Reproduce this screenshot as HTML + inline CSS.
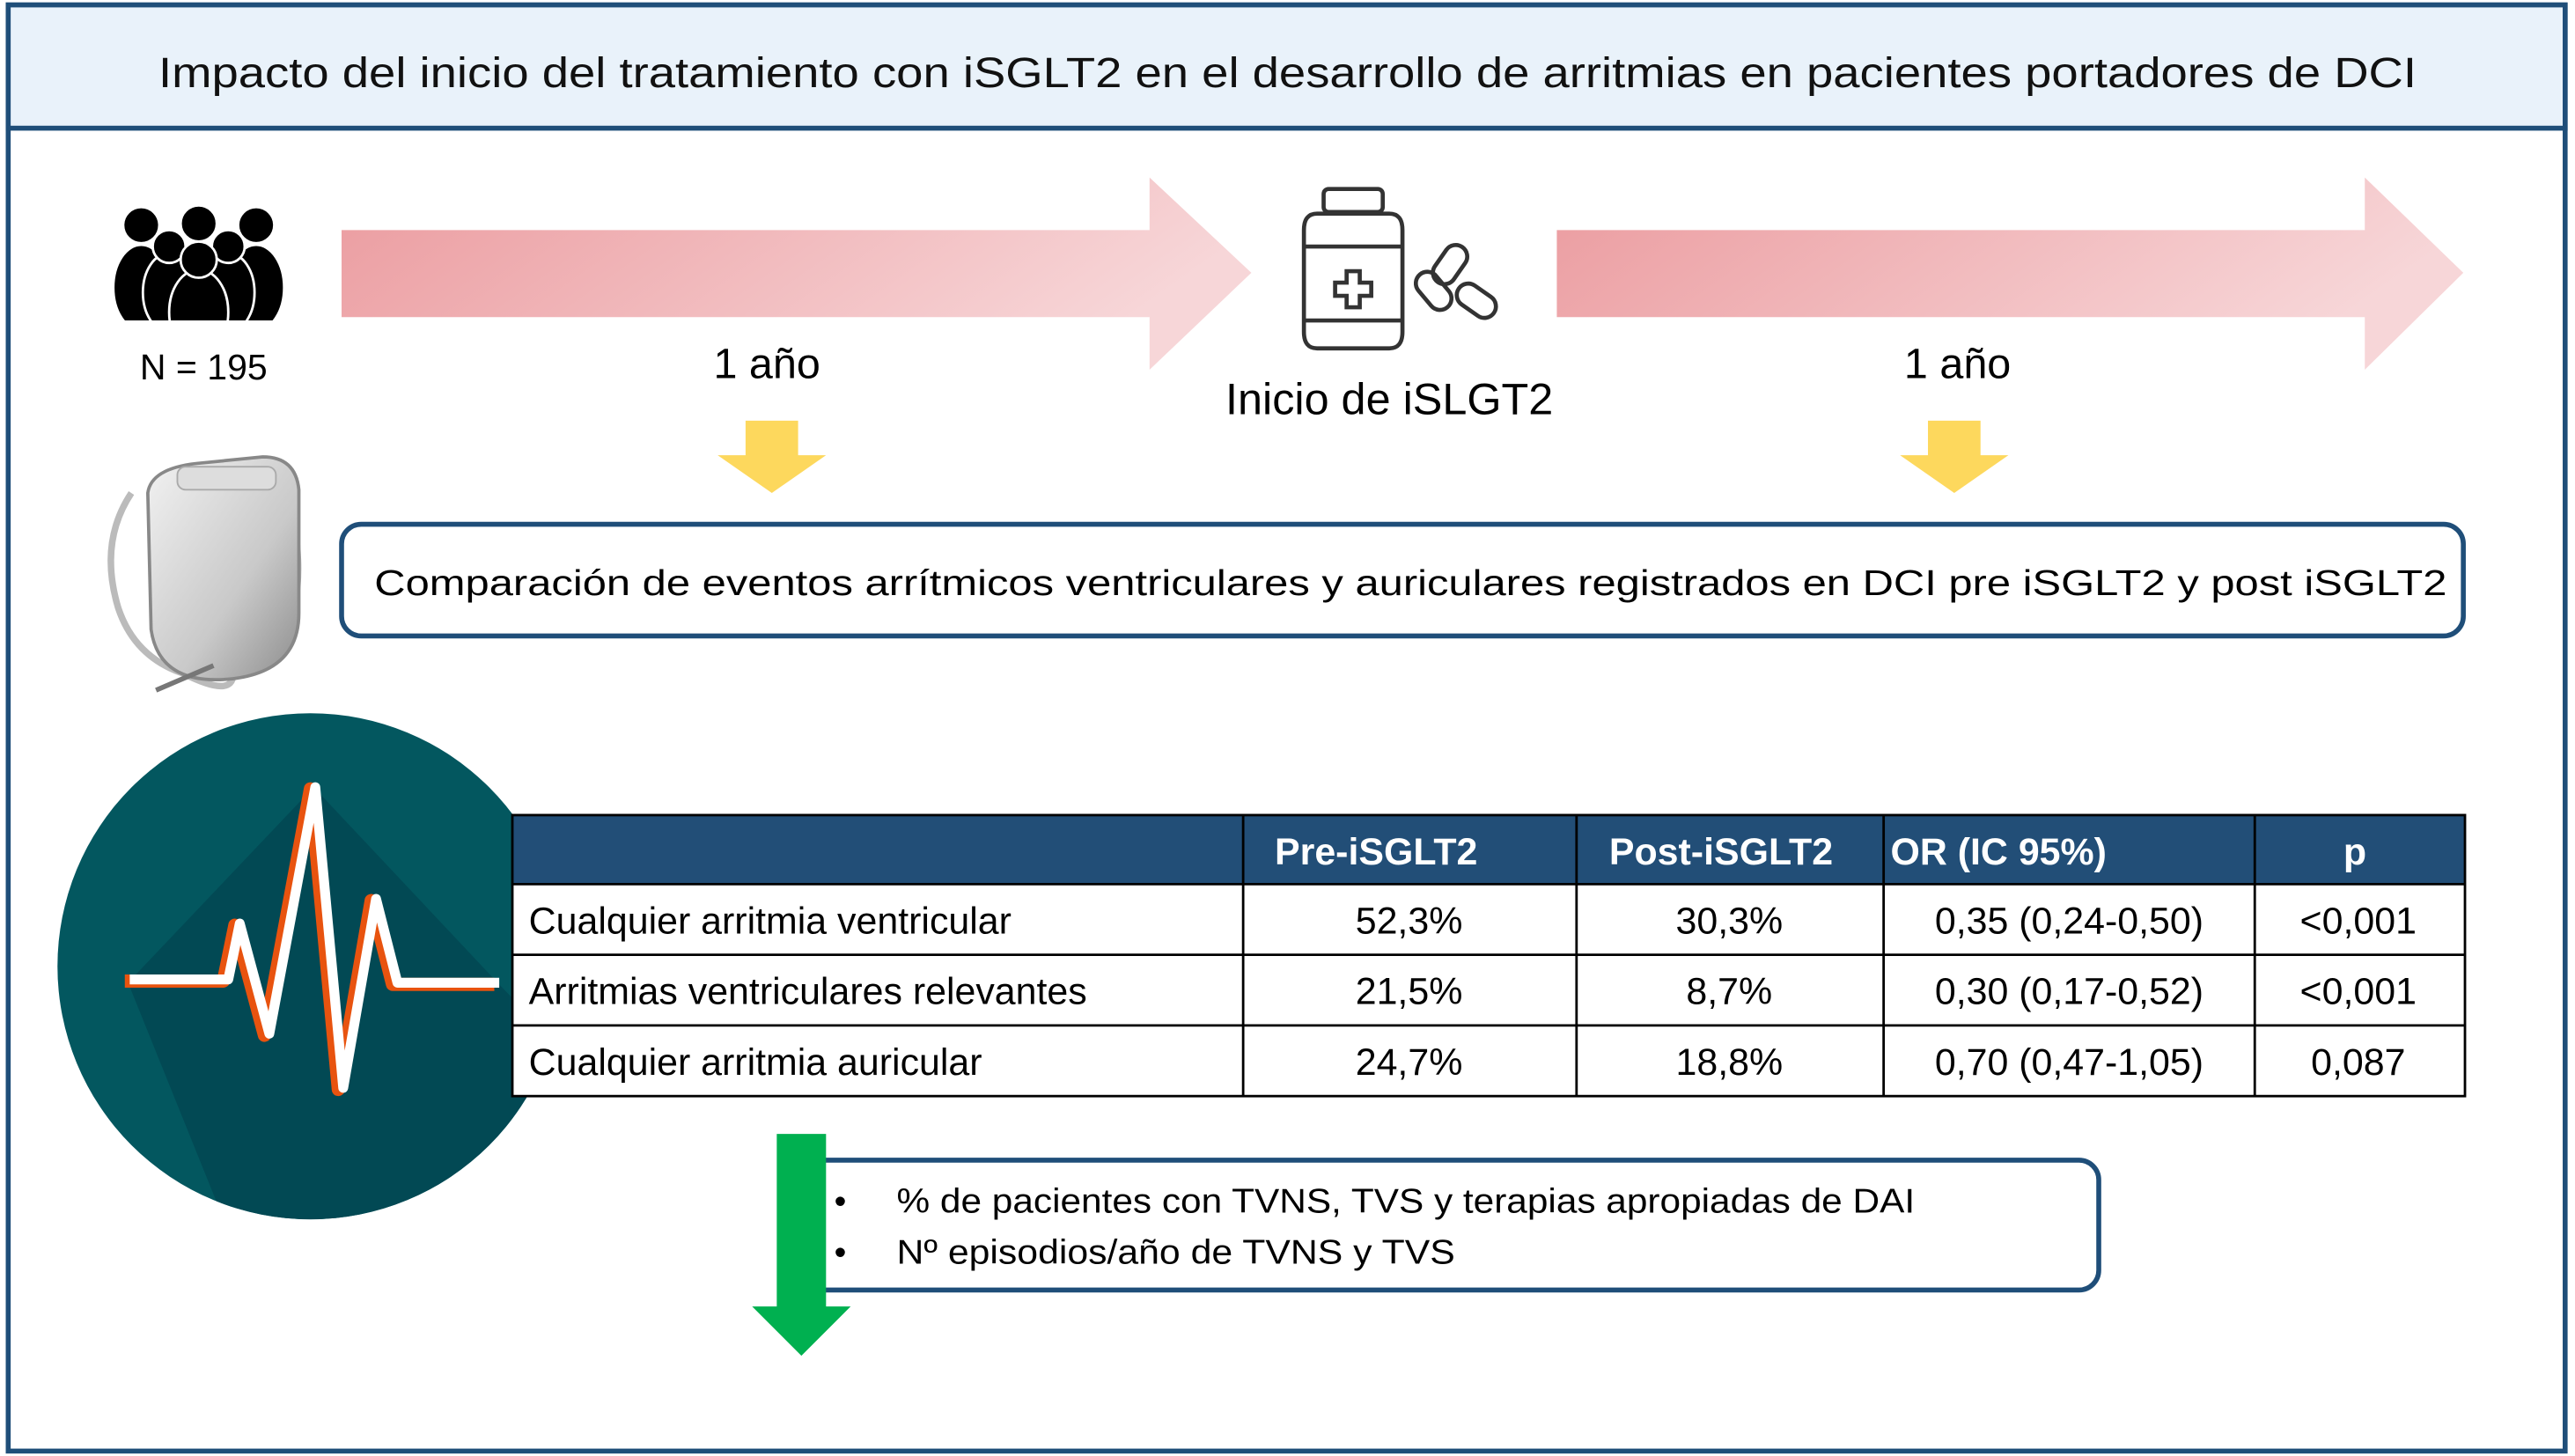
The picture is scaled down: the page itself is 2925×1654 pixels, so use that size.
<!DOCTYPE html>
<html><head><meta charset="utf-8"><style>
html,body{margin:0;padding:0;background:#fff}
svg{display:block}
text{font-family:"Liberation Sans",Arial,sans-serif}
</style></head><body>
<svg width="2925" height="1654" viewBox="0 0 1568 886" preserveAspectRatio="none" xmlns="http://www.w3.org/2000/svg">
<defs>
<linearGradient id="ag" x1="0" y1="0" x2="1" y2="0.3"><stop offset="0" stop-color="#eb9b9f"/><stop offset="1" stop-color="#f7d6d8"/></linearGradient>
<linearGradient id="pm" x1="0" y1="0" x2="1" y2="1"><stop offset="0" stop-color="#f2f2f2"/><stop offset="0.6" stop-color="#c9c9c9"/><stop offset="1" stop-color="#8d8d8d"/></linearGradient>
<clipPath id="cc"><circle cx="189" cy="588" r="154"/></clipPath>
<clipPath id="pc"><rect x="60" y="100" width="130" height="95"/></clipPath>
</defs>
<rect x="0" y="0" width="1568" height="886" fill="#fff"/>
<rect x="5" y="3" width="1557" height="880" fill="none" stroke="#1f4e79" stroke-width="3"/>
<rect x="5" y="3" width="1557" height="75" fill="#e9f2fa" stroke="#1f4e79" stroke-width="3"/>
<text x="784" y="53" font-size="26" text-anchor="middle" textLength="1375" lengthAdjust="spacingAndGlyphs" fill="#111">Impacto del inicio del tratamiento con iSGLT2 en el desarrollo de arritmias en pacientes portadores de DCI</text>

<g fill="#000" stroke="#fff" stroke-width="1.5" clip-path="url(#pc)">
<ellipse cx="86" cy="175" rx="17" ry="26"/><ellipse cx="156" cy="175" rx="17" ry="26"/>
<circle cx="86" cy="137" r="11"/><circle cx="156" cy="137" r="11"/><circle cx="121" cy="136" r="11"/>
<ellipse cx="103" cy="178" rx="16" ry="24"/><ellipse cx="139" cy="178" rx="16" ry="24"/>
<circle cx="103" cy="150" r="10"/><circle cx="139" cy="150" r="10"/>
<ellipse cx="121" cy="190" rx="18" ry="26"/><circle cx="121" cy="158" r="11"/>
</g>
<text x="124" y="231" font-size="22" text-anchor="middle">N = 195</text>

<polygon points="208,140 700,140 700,108 762,166 700,225 700,193 208,193" fill="url(#ag)"/>
<polygon points="948,140 1440,140 1440,108 1500,166 1440,225 1440,193 948,193" fill="url(#ag)"/>
<text x="467" y="230" font-size="26" text-anchor="middle">1 año</text>
<text x="1192" y="230" font-size="26" text-anchor="middle">1 año</text>

<g fill="none" stroke="#333" stroke-width="2.5">
<rect x="806" y="115" width="36" height="14" rx="3"/>
<path d="M802 130 h44 q8 0 8 10 v62 q0 10 -8 10 h-44 q-8 0 -8 -10 v-62 q0 -10 8 -10z"/>
<line x1="795" y1="150" x2="853" y2="150"/><line x1="795" y1="195" x2="853" y2="195"/>
<path d="M820 165 h8 v7 h7 v8 h-7 v7 h-8 v-7 h-7 v-8 h7z"/>
<rect x="876" y="148" width="14" height="26" rx="7" transform="rotate(35 883 161)"/>
<rect x="866" y="164" width="14" height="26" rx="7" transform="rotate(-40 873 177)"/>
<rect x="892" y="170" width="14" height="26" rx="7" transform="rotate(-55 899 183)"/>
</g>
<text x="846" y="252" font-size="27" text-anchor="middle">Inicio de iSLGT2</text>

<polygon points="454,256 486,256 486,277 503,277 470,300 437,277 454,277" fill="#fdd85d"/>
<polygon points="1174,256 1206,256 1206,277 1223,277 1190,300 1157,277 1174,277" fill="#fdd85d"/>

<g>
<path d="M80 300 q-20 30 -8 70 q10 30 40 40 q30 15 30 0" fill="none" stroke="#bbb" stroke-width="4"/>
<path d="M150 410 q40 -20 30 -90" fill="none" stroke="#aaa" stroke-width="3"/>
<path d="M90 300 q2 -15 30 -18 l40 -4 q20 0 22 20 l0 75 q0 35 -40 40 q-45 5 -50 -30z" fill="url(#pm)" stroke="#888" stroke-width="2"/>
<rect x="108" y="284" width="60" height="14" rx="5" fill="#ddd" stroke="#aaa"/>
<line x1="130" y1="405" x2="95" y2="420" stroke="#777" stroke-width="3"/>
</g>

<rect x="208" y="319" width="1292" height="68" rx="12" fill="#fff" stroke="#1f4e79" stroke-width="3"/>
<text x="228" y="362" font-size="22" textLength="1262" lengthAdjust="spacingAndGlyphs">Comparación de eventos arrítmicos ventriculares y auriculares registrados en DCI pre iSGLT2 y post  iSGLT2</text>

<g>
<circle cx="189" cy="588" r="154" fill="#03575f"/>
<polygon clip-path="url(#cc)" points="78,598 191,479 303,598 420,720 200,900 78,598" fill="#024954"/>
<polyline points="78,596 138,596 145,562 163,629 191,479 208,662 228,547 241,598 303,598" fill="none" stroke="#e8530f" stroke-width="8" stroke-linejoin="round" transform="translate(-2,1)"/>
<polyline points="78,596 138,596 145,562 163,629 191,479 208,662 228,547 241,598 303,598" fill="none" stroke="#fff" stroke-width="6" stroke-linejoin="round" transform="translate(1,0)"/>
</g>

<g font-size="23">
<rect x="312" y="496" width="1189" height="42" fill="#224e77"/>
<rect x="312" y="538" width="1189" height="129" fill="#fff"/>
<g stroke="#000" stroke-width="1.5" fill="none">
<rect x="312" y="496" width="1189" height="171"/>
<line x1="312" y1="538" x2="1501" y2="538"/><line x1="312" y1="581" x2="1501" y2="581"/><line x1="312" y1="624" x2="1501" y2="624"/>
<line x1="757" y1="496" x2="757" y2="667"/><line x1="960" y1="496" x2="960" y2="667"/><line x1="1147" y1="496" x2="1147" y2="667"/><line x1="1373" y1="496" x2="1373" y2="667"/>
</g>
<g fill="#fff" font-weight="bold" text-anchor="middle">
<text x="838" y="526">Pre-iSGLT2</text>
<text x="1048" y="526">Post-iSGLT2</text>
<text x="1217" y="526">OR (IC 95%)</text>
<text x="1434" y="526">p</text>
</g>
<g fill="#000">
<text x="322" y="568">Cualquier arritmia ventricular</text>
<text x="322" y="611">Arritmias ventriculares relevantes</text>
<text x="322" y="654">Cualquier arritmia auricular</text>
</g>
<g fill="#000" text-anchor="middle">
<text x="858" y="568">52,3%</text><text x="1053" y="568">30,3%</text><text x="1260" y="568">0,35 (0,24-0,50)</text><text x="1436" y="568">&lt;0,001</text>
<text x="858" y="611">21,5%</text><text x="1053" y="611">8,7%</text><text x="1260" y="611">0,30 (0,17-0,52)</text><text x="1436" y="611">&lt;0,001</text>
<text x="858" y="654">24,7%</text><text x="1053" y="654">18,8%</text><text x="1260" y="654">0,70 (0,47-1,05)</text><text x="1436" y="654">0,087</text>
</g>
</g>

<rect x="490" y="706" width="788" height="79" rx="12" fill="#fff" stroke="#1f4e79" stroke-width="3"/>
<polygon points="473,690 503,690 503,795 518,795 488,825 458,795 473,795" fill="#00b050"/>
<g font-size="21" fill="#000">
<text x="508" y="738">•</text><text x="546" y="738" textLength="620" lengthAdjust="spacingAndGlyphs">% de pacientes con TVNS, TVS y terapias apropiadas de DAI</text>
<text x="508" y="769">•</text><text x="546" y="769" textLength="340" lengthAdjust="spacingAndGlyphs">Nº episodios/año de TVNS y TVS</text>
</g>
</svg>
</body></html>
